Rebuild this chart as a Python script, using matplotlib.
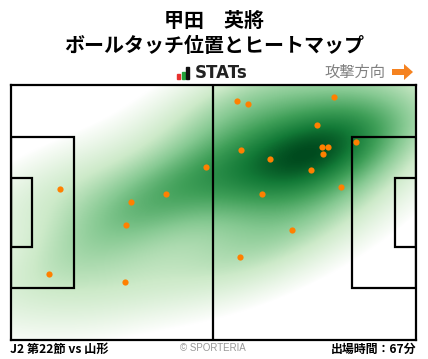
import numpy as np
import matplotlib.pyplot as plt
from matplotlib.colors import LinearSegmentedColormap, PowerNorm
from matplotlib.patches import Rectangle, FancyArrow

plt.rcParams['font.family'] = ['Noto Sans CJK JP', 'DejaVu Sans']

## Data
player = '甲田　英將'
subtitle = 'ボールタッチ位置とヒートマップ'
match_label = 'J2 第22節 vs 山形'
minutes_label = '出場時間：67分'

# ball touch positions, metres (x: 0-105 toward attack, y: 0-68 from bottom)
touch_x = [12.9, 31.3, 40.3, 50.7, 58.7, 61.6, 83.8, 79.4, 59.8, 67.3, 80.7,
           82.3, 81.0, 89.5, 77.9, 85.6, 65.2, 30.0, 10.0, 29.7, 73.0, 59.5]
touch_y = [40.1, 36.6, 38.8, 46.0, 63.5, 62.7, 64.8, 57.1, 50.5, 48.1, 51.3,
           51.3, 49.4, 52.6, 45.2, 40.6, 38.8, 30.5, 17.5, 15.4, 29.2, 22.0]

L, W = 105.0, 68.0

## KDE (gaussian, full covariance)
pts = np.vstack([touch_x, touch_y])
factor = 0.68
cov = np.cov(pts) * factor ** 2
inv = np.linalg.inv(cov)
gx, gy = np.meshgrid(np.linspace(0, L, 400), np.linspace(0, W, 260))
dens = np.zeros_like(gx)
for px, py in zip(touch_x, touch_y):
    dx = gx - px
    dy = gy - py
    dens += np.exp(-0.5 * (inv[0, 0] * dx * dx + 2 * inv[0, 1] * dx * dy + inv[1, 1] * dy * dy))
dens /= dens.max()

cmap = LinearSegmentedColormap.from_list(
    'heat', [(0.0, '#ffffff'), (0.1, '#eff8ed'), (0.3, '#cdeac9'), (0.52, '#86c992'),
             (0.72, '#3f9f58'), (0.88, '#137a37'), (1.0, '#004a1e')])

## Plotting
fig = plt.figure(figsize=(4.28, 3.59), dpi=100)
ax = fig.add_axes([10.5 / 428, 19 / 359, 405.5 / 428, 255.5 / 359])
ax.imshow(dens, origin='lower', extent=[0, L, 0, W], cmap=cmap,
          norm=PowerNorm(gamma=0.7, vmin=0.03, vmax=1.0),
          aspect='auto', interpolation='bilinear')

lw = 1.6
ax.plot([L / 2, L / 2], [0, W], color='black', lw=lw)
for x0, dx in [(0, 16.5), (L - 16.5, 16.5)]:
    ax.add_patch(Rectangle((x0, W / 2 - 20.16), dx, 40.32, fill=False, ec='black', lw=lw))
for x0, dx in [(0, 5.5), (L - 5.5, 5.5)]:
    ax.add_patch(Rectangle((x0, W / 2 - 9.16), dx, 18.32, fill=False, ec='black', lw=lw))

ax.scatter(touch_x, touch_y, s=20, color='#ff8000', zorder=5, linewidths=0)

ax.set_xlim(0, L)
ax.set_ylim(0, W)
ax.set_xticks([])
ax.set_yticks([])
for s in ax.spines.values():
    s.set_linewidth(lw)

## Texts
fig.text(0.5, 1 - 20 / 359, player, ha='center', va='center', fontsize=14.4, fontweight='bold')
fig.text(0.5, 1 - 45 / 359, subtitle, ha='center', va='center', fontsize=14.4, fontweight='bold')

# STATs logo
for x0, h, c in [(177, 5, '#e8312f'), (181.5, 7, '#23a33b'), (186, 12, '#111111')]:
    fig.patches.append(Rectangle((x0 / 428, 1 - 79 / 359), 3.2 / 428, h / 359,
                                 transform=fig.transFigure, color=c))
fig.text(195 / 428, 1 - 73 / 359, 'STATs', ha='left', va='center', fontsize=12,
         fontweight='bold', family='DejaVu Sans', color='#222222')

fig.text(385 / 428, 1 - 72 / 359, '攻撃方向', ha='right', va='center', fontsize=11,
         color='#808080')
fig.patches.append(FancyArrow(392 / 428, 1 - 72 / 359, 21 / 428, 0, width=6 / 359,
                              head_width=16 / 359, head_length=9 / 428,
                              length_includes_head=True, transform=fig.transFigure,
                              color='#f58220', lw=0))

fig.text(10 / 428, 1 - 349 / 359, match_label, ha='left', va='center', fontsize=8.8,
         fontweight='bold')
fig.text(213 / 428, 1 - 348 / 359, '© SPORTERIA', ha='center', va='center', fontsize=7,
         color='#999999', family=['Liberation Sans', 'DejaVu Sans'])
fig.text(416 / 428, 1 - 349 / 359, minutes_label, ha='right', va='center', fontsize=8.6,
         fontweight='bold')

fig.savefig('out.png', dpi=100)
